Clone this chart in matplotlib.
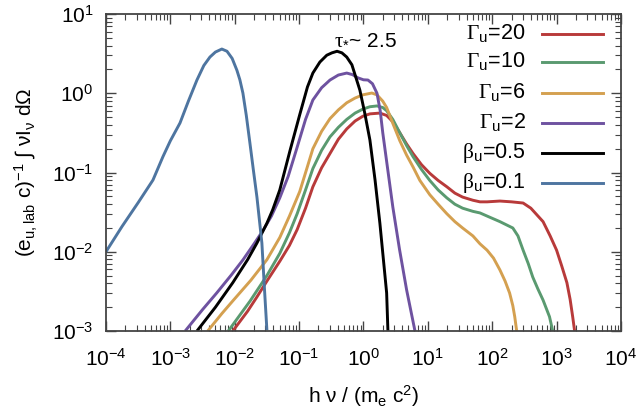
import numpy as np
import matplotlib
matplotlib.use("Agg")
from matplotlib import pyplot as plt

plt.rcParams['font.family'] = ['Liberation Sans', 'DejaVu Sans']
plt.rcParams['mathtext.fontset'] = 'custom'
plt.rcParams['mathtext.rm'] = 'Liberation Serif'
plt.rcParams['mathtext.it'] = 'Liberation Serif'
plt.rcParams['mathtext.sf'] = 'Liberation Sans'
plt.rcParams['mathtext.default'] = 'regular'

# curves: log10(h nu / m_e c^2), log10(flux)
g20_logx = [-2.03, -1.8, -1.655, -1.5, -1.30, -1.15, -1.03, -0.9, -0.786, -0.65, -0.52, -0.39,
            -0.26, -0.13, -0.01, 0.10, 0.255, 0.36, 0.456, 0.565, 0.67, 0.77, 0.9, 1.03, 1.16,
            1.295, 1.42, 1.54, 1.7, 1.81, 1.92, 2.12, 2.3, 2.48, 2.6, 2.79, 2.9, 3.0, 3.08,
            3.16, 3.21, 3.25, 3.28]
g20_logy = [-3.0, -2.75, -2.57, -2.37, -2.12, -1.92, -1.72, -1.45, -1.18, -0.94, -0.76, -0.58,
            -0.45, -0.35, -0.29, -0.26, -0.25, -0.28, -0.36, -0.50, -0.64, -0.76, -0.90, -1.01,
            -1.10, -1.18, -1.26, -1.31, -1.35, -1.37, -1.37, -1.36, -1.37, -1.385, -1.45, -1.62,
            -1.80, -1.98, -2.18, -2.39, -2.6, -2.82, -3.0]

g10_logx = [-2.10, -1.76, -1.5, -1.30, -1.15, -1.03, -0.9, -0.786, -0.65, -0.52, -0.39, -0.26,
            -0.13, -0.01, 0.10, 0.21, 0.30, 0.36, 0.456, 0.565, 0.67, 0.77, 0.9, 1.03, 1.16,
            1.295, 1.42, 1.54, 1.7, 1.81, 1.95, 2.12, 2.32, 2.40, 2.48, 2.56, 2.63, 2.71, 2.79,
            2.89, 2.94]
g10_logy = [-3.0, -2.62, -2.30, -2.02, -1.76, -1.52, -1.22, -0.95, -0.72, -0.55, -0.43, -0.33,
            -0.25, -0.20, -0.17, -0.16, -0.18, -0.22, -0.33, -0.50, -0.66, -0.80, -0.96, -1.10,
            -1.22, -1.32, -1.40, -1.45, -1.49, -1.51, -1.56, -1.62, -1.70, -1.80, -1.98, -2.15,
            -2.32, -2.47, -2.61, -2.82, -3.0]

g6_logx = [-2.42, -2.2, -2.03, -1.75, -1.50, -1.30, -1.15, -0.99, -0.88, -0.786, -0.65, -0.52,
           -0.39, -0.26, -0.13, -0.01, 0.13, 0.21, 0.30, 0.36, 0.456, 0.565, 0.67, 0.77, 0.876,
           1.03, 1.16, 1.295, 1.42, 1.54, 1.70, 1.81, 1.92, 2.02, 2.12, 2.2, 2.27, 2.32, 2.35,
           2.38]
g6_logy = [-3.0, -2.78, -2.62, -2.36, -2.10, -1.82, -1.55, -1.24, -0.95, -0.70, -0.48, -0.32,
           -0.21, -0.12, -0.06, -0.02, 0.003, -0.02, -0.10, -0.18, -0.38, -0.60, -0.78, -0.93,
           -1.10, -1.28, -1.40, -1.52, -1.62, -1.70, -1.80, -1.90, -1.98, -2.08, -2.23, -2.37,
           -2.52, -2.68, -2.82, -3.0]

g2_logx = [-2.77, -2.5, -2.28, -2.05, -1.87, -1.7, -1.56, -1.43, -1.30, -1.17, -1.03, -0.9,
           -0.786, -0.65, -0.52, -0.39, -0.26, -0.17, -0.087, 0.0, 0.07, 0.14, 0.21, 0.26, 0.30,
           0.38, 0.456, 0.56, 0.67, 0.80]
g2_logy = [-3.0, -2.73, -2.52, -2.29, -2.10, -1.90, -1.73, -1.55, -1.32, -1.05, -0.68, -0.33,
           -0.085, 0.07, 0.167, 0.23, 0.255, 0.235, 0.195, 0.17, 0.167, 0.12, 0.0, -0.22, -0.50,
           -0.98, -1.435, -1.97, -2.48, -3.0]

b05_logx = [-2.587, -2.3, -2.03, -1.8, -1.655, -1.5, -1.41, -1.30, -1.14, -0.99, -0.87, -0.786,
            -0.677, -0.57, -0.49, -0.41, -0.335, -0.26, -0.18, -0.056, 0.02, 0.10, 0.18, 0.255,
            0.36, 0.38]
b05_logy = [-3.0, -2.7, -2.39, -2.1, -1.89, -1.64, -1.47, -1.22, -0.72, -0.27, 0.08, 0.255,
            0.394, 0.48, 0.51, 0.53, 0.51, 0.457, 0.36, 0.04, -0.25, -0.59, -1.095, -1.64,
            -2.52, -3.0]

b01_logx = [-4.0, -3.75, -3.5, -3.27, -3.115, -3.0, -2.85, -2.72, -2.587, -2.48, -2.385, -2.3,
            -2.2, -2.12, -2.04, -1.966, -1.92, -1.873, -1.82, -1.764, -1.71, -1.655, -1.578,
            -1.54, -1.50]
b01_logy = [-2.0, -1.68, -1.38, -1.095, -0.80, -0.60, -0.375, -0.10, 0.167, 0.35, 0.457, 0.52,
            0.558, 0.53, 0.44, 0.29, 0.17, 0.003, -0.28, -0.628, -0.97, -1.31, -1.89, -2.44,
            -2.99]

labels = [r'$\mathrm{\Gamma}_{\mathdefault{u}}$=20', r'$\mathrm{\Gamma}_{\mathdefault{u}}$=10',
          r'$\mathrm{\Gamma}_{\mathdefault{u}}$=6', r'$\mathrm{\Gamma}_{\mathdefault{u}}$=2',
          r'$\mathrm{\beta}_{\mathdefault{u}}$=0.5', r'$\mathrm{\beta}_{\mathdefault{u}}$=0.1']
colors = ['#b83a3a', '#5a9a70', '#d4a050', '#6e52a0', '#000000', '#4e75a0']
curves = [(g20_logx, g20_logy), (g10_logx, g10_logy), (g6_logx, g6_logy),
          (g2_logx, g2_logy), (b05_logx, b05_logy), (b01_logx, b01_logy)]

fig = plt.figure(figsize=(6.38, 4.11), dpi=100)
ax = fig.add_axes([0.1661, 0.1946, 0.8072, 0.7713])

for (lx, ly), c in zip(curves, colors):
    ax.plot(10 ** np.array(lx), 10 ** np.array(ly), color=c, lw=2.1,
            solid_joinstyle='round', solid_capstyle='butt')

ax.set_xscale('log')
ax.set_yscale('log')
ax.set_xlim(1e-4, 1e4)
ax.set_ylim(1e-3, 1e1)
ax.set_xticks([10.0 ** k for k in range(-4, 5)])
ax.set_yticks([10.0 ** k for k in range(-3, 2)])
ax.xaxis.set_minor_locator(matplotlib.ticker.LogLocator(base=10, subs=np.arange(2, 10), numticks=20))
ax.yaxis.set_minor_locator(matplotlib.ticker.LogLocator(base=10, subs=np.arange(2, 10), numticks=20))
ax.xaxis.set_minor_formatter(matplotlib.ticker.NullFormatter())
ax.yaxis.set_minor_formatter(matplotlib.ticker.NullFormatter())
ax.tick_params(which='both', direction='in', top=True, right=True, color='#444444', labelsize=15)
ax.tick_params(axis='x', which='major', pad=12)
ax.tick_params(axis='y', which='major', pad=9)
ax.tick_params(which='major', length=7, width=1.0)
ax.tick_params(which='minor', length=4, width=0.8)
for s in ax.spines.values():
    s.set_color('#444444')
    s.set_linewidth(1.3)

ax.set_xlabel(r'h ν / (m$_{e}$ c$^{2}$)', fontsize=15, labelpad=10)
ax.set_ylabel(r'(e$_{u,lab}$ c)$^{-1}$ ∫ νI$_{ν}$ dΩ', fontsize=15, labelpad=9)

# legend drawn by hand, text right-aligned like the original
rows = [0.937, 0.849, 0.751, 0.656, 0.562, 0.467]
for y, lab, c in zip(rows, labels, colors):
    ax.text(0.815, y, lab, transform=ax.transAxes, ha='right', va='center', fontsize=15.5)
    ax.plot([0.8466, 0.965], [y, y], transform=ax.transAxes, color=c, lw=2.1)

ax.text(0.443, 0.922, r'$\mathrm{\tau}_{*}$~ 2.5', transform=ax.transAxes, ha='left',
        va='center', fontsize=15)

fig.savefig('out.png', dpi=100)
